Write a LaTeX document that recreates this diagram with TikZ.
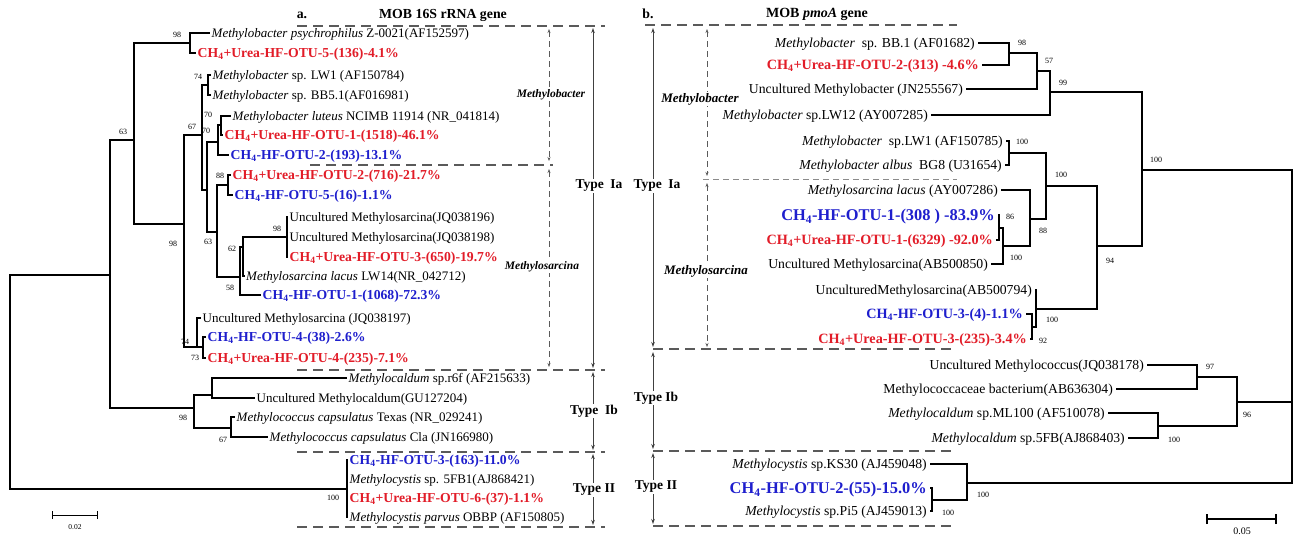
\documentclass[tikz,border=0pt]{standalone}
\usepackage{fontspec}
\setmainfont{Liberation Serif}
\usetikzlibrary{arrows.meta}
\definecolor{otured}{RGB}{226,28,40}
\definecolor{otublue}{RGB}{30,30,205}
\definecolor{dashgray}{RGB}{90,90,90}
\newcommand\fL{\fontsize{13}{15}\selectfont}
\newcommand\fLb{\fontsize{13.7}{15}\selectfont\bfseries}
\newcommand\fR{\fontsize{13.7}{16}\selectfont}
\newcommand\fRb{\fontsize{14.2}{16}\selectfont\bfseries}
\newcommand\fRB{\fontsize{16.4}{18}\selectfont\bfseries}
\newcommand\fBS{\fontsize{8}{9}\selectfont}
\newcommand\CHf{CH\textsubscript{4}}
\tikzset{
  br/.style={line width=1.3pt},
  lfL/.style={anchor=west, inner xsep=1.5pt, inner ysep=0pt, text height=10pt, text depth=1pt, font=\fL},
  lfLr/.style={lfL, font=\fLb, text=otured},
  lfLb/.style={lfL, font=\fLb, text=otublue},
  lfR/.style={anchor=east, inner xsep=3pt, inner ysep=0pt, text height=10pt, text depth=1pt, font=\fR},
  lfRr/.style={lfR, font=\fRb, text=otured},
  lfRb/.style={lfR, font=\fRb, text=otublue},
  lfRB/.style={lfR, font=\fRB, text=otublue, text height=12pt},
  bsv/.style={font=\fBS, inner sep=0pt},
  dline/.style={dashgray, line width=1.1pt, dash pattern=on 10pt off 6pt},
  dthin/.style={dashgray!70, line width=0.8pt, dash pattern=on 6pt off 4pt},
  darr/.style={dashgray, line width=0.8pt, dash pattern=on 6pt off 4pt, {Stealth[length=4pt,width=3pt]}-{Stealth[length=4pt,width=3pt]}},
  sarr/.style={black!75, line width=0.9pt, {Stealth[length=5pt,width=3.5pt]}-{Stealth[length=5pt,width=3.5pt]}},
  typelab/.style={font=\fontsize{13.5}{15}\selectfont\bfseries, fill=white, inner sep=1pt},
  cladeL/.style={font=\fontsize{11.5}{13}\selectfont\bfseries\itshape, fill=white, inner sep=1pt},
  cladeR/.style={font=\fontsize{13}{15}\selectfont\bfseries\itshape, fill=white, inner sep=1pt},
  ttl/.style={font=\fontsize{13.8}{15}\selectfont\bfseries, inner sep=1pt}
}
\begin{document}
\begin{tikzpicture}[x=1pt,y=-1pt]
\fill[white] (0,0) rectangle (1295,536);
\useasboundingbox (0,0) rectangle (1295,536);

% ================= LEFT TREE (a) =================
\node[ttl] (ta) at (302,15) {a.};
\node[ttl] (tma) at (443,15) {MOB 16S rRNA gene};

% leaves
\node[lfL]  (L1)  at (210,33)  {\textit{Methylobacter psychrophilus} Z-0021(AF152597)};
\node[lfLr] (L2)  at (196,53)  {\CHf+Urea-HF-OTU-5-(136)-4.1\%};
\node[lfL]  (L3)  at (211,75)  {\textit{Methylobacter} sp. LW1 (AF150784)};
\node[lfL]  (L4)  at (211,95)  {\textit{Methylobacter} sp. BB5.1(AF016981)};
\node[lfL]  (L5)  at (231,116) {\textit{Methylobacter luteus} NCIMB 11914 (NR\_041814)};
\node[lfLr] (L6)  at (223,135) {\CHf+Urea-HF-OTU-1-(1518)-46.1\%};
\node[lfLb] (L7)  at (229,155) {\CHf-HF-OTU-2-(193)-13.1\%};
\node[lfLr] (L8)  at (231,175) {\CHf+Urea-HF-OTU-2-(716)-21.7\%};
\node[lfLb] (L9)  at (233,195) {\CHf-HF-OTU-5-(16)-1.1\%};
\node[lfL]  (L10) at (288,217) {Uncultured Methylosarcina(JQ038196)};
\node[lfL]  (L11) at (288,237) {Uncultured Methylosarcina(JQ038198)};
\node[lfLr] (L12) at (288,257) {\CHf+Urea-HF-OTU-3-(650)-19.7\%};
\node[lfL]  (L13) at (244.5,276) {\textit{Methylosarcina lacus} LW14(NR\_042712)};
\node[lfLb] (L14) at (261,295) {\CHf-HF-OTU-1-(1068)-72.3\%};
\node[lfL]  (L15) at (201,318) {Uncultured Methylosarcina (JQ038197)};
\node[lfLb] (L16) at (206,337) {\CHf-HF-OTU-4-(38)-2.6\%};
\node[lfLr] (L17) at (206,358) {\CHf+Urea-HF-OTU-4-(235)-7.1\%};
\node[lfL]  (L18) at (347,378) {\textit{Methylocaldum} sp.r6f (AF215633)};
\node[lfL]  (L19) at (255,398) {Uncultured Methylocaldum(GU127204)};
\node[lfL]  (L20) at (235,417) {\textit{Methylococcus capsulatus} Texas (NR\_029241)};
\node[lfL]  (L21) at (268,437) {\textit{Methylococcus capsulatus} Cla (JN166980)};
\node[lfLb] (L22) at (348,460) {\CHf-HF-OTU-3-(163)-11.0\%};
\node[lfL]  (L23) at (348,479) {\textit{Methylocystis} sp. 5FB1(AJ868421)};
\node[lfLr] (L24) at (348,498) {\CHf+Urea-HF-OTU-6-(37)-1.1\%};
\node[lfL]  (L25) at (348,517) {\textit{Methylocystis parvus} OBBP (AF150805)};

% internal nodes
\coordinate (R0) at (10,382);
\coordinate (A) at (110,275);
\coordinate (M) at (347,489);
\coordinate (B) at (134,140);
\coordinate (Ib) at (194,408);
\coordinate (C) at (190,43);
\coordinate (D) at (184,224);
\coordinate (E) at (202,135);
\coordinate (F) at (197,347);
\coordinate (N34) at (208,85);
\coordinate (G) at (207,190);
\coordinate (R567) at (218,142);
\coordinate (R56) at (221,125);
\coordinate (H) at (217,232);
\coordinate (R89) at (228,185);
\coordinate (I) at (240,277);
\coordinate (J) at (243,247);
\coordinate (R1012) at (287,237);
\coordinate (K) at (203,347);
\coordinate (Ib1) at (212,395);
\coordinate (Ib2) at (231,428);

\draw[br] (R0) |- (A);  \draw[br] (R0) |- (M);
\draw[br] (A) |- (B);   \draw[br] (A) |- (Ib);
\draw[br] (B) |- (C);   \draw[br] (B) |- (D);
\draw[br] (C) |- (L1.west); \draw[br] (C) |- (L2.west);
\draw[br] (D) |- (E);   \draw[br] (D) |- (F);
\draw[br] (E) |- (N34); \draw[br] (E) |- (G);
\draw[br] (N34) |- (L3.west); \draw[br] (N34) |- (L4.west);
\draw[br] (G) |- (R567); \draw[br] (G) |- (H);
\draw[br] (R567) |- (R56); \draw[br] (R567) |- (L7.west);
\draw[br] (R56) |- (L5.west); \draw[br] (R56) |- (L6.west);
\draw[br] (H) |- (R89); \draw[br] (H) |- (I);
\draw[br] (R89) |- (L8.west); \draw[br] (R89) |- (L9.west);
\draw[br] (I) |- (J); \draw[br] (I) |- (L14.west);
\draw[br] (J) |- (R1012); \draw[br] (J) |- (L13.west);
\draw[br] (R1012) |- (L10.west); \draw[br] (R1012) |- (L11.west); \draw[br] (R1012) |- (L12.west);
\draw[br] (F) |- (L15.west); \draw[br] (F) |- (K);
\draw[br] (K) |- (L16.west); \draw[br] (K) |- (L17.west);
\draw[br] (Ib) |- (Ib1); \draw[br] (Ib) |- (Ib2);
\draw[br] (Ib1) |- (L18.west); \draw[br] (Ib1) |- (L19.west);
\draw[br] (Ib2) |- (L20.west); \draw[br] (Ib2) |- (L21.west);
\draw[br] (M) |- (L22.west); \draw[br] (M) |- (L23.west); \draw[br] (M) |- (L24.west); \draw[br] (M) |- (L25.west);

% bootstrap values (left)
\node[bsv] (bC) at (177,35) {98};
\node[bsv] (bB) at (123,132) {63};
\node[bsv] (bD) at (173,244) {98};
\node[bsv] (bE) at (192,127) {67};
\node[bsv] (bN34) at (198,77) {74};
\node[bsv] (bR56) at (208,115) {70};
\node[bsv] (bR567) at (206,131) {70};
\node[bsv] (bR89) at (220,176) {88};
\node[bsv] (bH) at (208,242) {63};
\node[bsv] (bR1012) at (277,229) {98};
\node[bsv] (bJ) at (232,249) {62};
\node[bsv] (bI) at (230,288) {58};
\node[bsv] (bF) at (185,342) {74};
\node[bsv] (bK) at (195,358) {73};
\node[bsv] (bIb) at (183,418) {98};
\node[bsv] (bIb2) at (223,440) {67};
\node[bsv] (bM) at (333,498) {100};

% scale bar left
\coordinate (sbl1) at (52,515); \coordinate (sbl2) at (97,515);
\draw[line width=1pt] (sbl1) -- (sbl2);
\draw[line width=1pt] ([yshift=-4pt]sbl1) -- ([yshift=4pt]sbl1);
\draw[line width=1pt] ([yshift=-4pt]sbl2) -- ([yshift=4pt]sbl2);
\node[font=\fontsize{7.5}{9}\selectfont, inner sep=0pt] (sbla) at (75,527) {0.02};

% group separators (left)
\draw[dline] (297,26) -- (605,26);
\draw[dline] (310,165) -- (553,165);
\draw[dline] (297,370) -- (605,370);
\draw[dline] (297,452) -- (605,452);
\draw[dline] (297,527) -- (605,527);

% arrows (left)
\draw[darr] (549,29) -- (549,161);
\draw[darr] (549,169) -- (549,367);
\node[cladeL] (cl1) at (551,95) {Methylobacter};
\node[cladeL] (cl2) at (542,267) {Methylosarcina};
\draw[sarr] (593,28) -- (593,368);
\draw[sarr] (593,372) -- (593,450);
\draw[sarr] (593,454) -- (593,525);
\node[typelab] (tIaL) at (599,186) {Type\ \ Ia};
\node[typelab] (tIbL) at (594,411) {Type\ \ Ib};
\node[typelab] (tIIL) at (594,490) {Type II};

% ================= RIGHT TREE (b) =================
\node[ttl] (tb) at (648,14) {b.};
\node[ttl, font=\fontsize{14}{15}\selectfont\bfseries] (tmb) at (817,14) {MOB \textit{pmoA} gene};

\node[lfR]  (r1)  at (978,43)   {\textit{Methylobacter}\ \ sp. BB.1 (AF01682)};
\node[lfRr] (r2)  at (982,65)   {\CHf+Urea-HF-OTU-2-(313) -4.6\%};
\node[lfR]  (r3)  at (966,89)   {Uncultured Methylobacter (JN255567)};
\node[lfR]  (r4)  at (931,115)  {\textit{Methylobacter} sp.LW12 (AY007285)};
\node[lfR]  (r5)  at (1006,141) {\textit{Methylobacter}\ \ sp.LW1 (AF150785)};
\node[lfR]  (r6)  at (1005,165) {\textit{Methylobacter albus}\ \ BG8 (U31654)};
\node[lfR]  (r7)  at (1001,190) {\textit{Methylosarcina lacus} (AY007286)};
\node[lfRB] (r8)  at (998,215)  {\CHf-HF-OTU-1-(308 ) -83.9\%};
\node[lfRr] (r9)  at (996,240)  {\CHf+Urea-HF-OTU-1-(6329) -92.0\%};
\node[lfR]  (r10) at (991,264)  {Uncultured Methylosarcina(AB500850)};
\node[lfR]  (r11) at (1035,290) {UnculturedMethylosarcina(AB500794)};
\node[lfRb] (r12) at (1026,314) {\CHf-HF-OTU-3-(4)-1.1\%};
\node[lfRr] (r13) at (1030,339) {\CHf+Urea-HF-OTU-3-(235)-3.4\%};
\node[lfR]  (r14) at (1147,365) {Uncultured Methylococcus(JQ038178)};
\node[lfR]  (r15) at (1116,389) {Methylococcaceae bacterium(AB636304)};
\node[lfR]  (r16) at (1108,413) {\textit{Methylocaldum} sp.ML100 (AF510078)};
\node[lfR]  (r17) at (1128,438) {\textit{Methylocaldum} sp.5FB(AJ868403)};
\node[lfR]  (r18) at (930,464)  {\textit{Methylocystis} sp.KS30 (AJ459048)};
\node[lfRB] (r19) at (930,488)  {\CHf-HF-OTU-2-(55)-15.0\%};
\node[lfR]  (r20) at (930,511)  {\textit{Methylocystis} sp.Pi5 (AJ459013)};

\coordinate (RR) at (1292,402);
\coordinate (IA) at (1142,170);
\coordinate (IB) at (1237,402);
\coordinate (II) at (967,483);
\coordinate (UB) at (1050,92);
\coordinate (U57) at (1037,71);
\coordinate (U98) at (1009,53);
\coordinate (LB) at (1097,246);
\coordinate (Na) at (1046,186);
\coordinate (N56) at (1009,153);
\coordinate (N88) at (1030,219);
\coordinate (N86) at (1003,246);
\coordinate (N89) at (999,228);
\coordinate (Nc) at (1036,309);
\coordinate (N92) at (1032,327);
\coordinate (N97) at (1197,377);
\coordinate (Nd) at (1158,426);
\coordinate (Ne) at (932,500);

\draw[br] (RR) |- (IA); \draw[br] (RR) |- (IB); \draw[br] (RR) |- (II);
\draw[br] (IA) |- (UB); \draw[br] (IA) |- (LB);
\draw[br] (UB) |- (U57); \draw[br] (UB) |- (r4.east);
\draw[br] (U57) |- (U98); \draw[br] (U57) |- (r3.east);
\draw[br] (U98) |- (r1.east); \draw[br] (U98) |- (r2.east);
\draw[br] (LB) |- (Na); \draw[br] (LB) |- (Nc);
\draw[br] (Na) |- (N56); \draw[br] (Na) |- (N88);
\draw[br] (N56) |- (r5.east); \draw[br] (N56) |- (r6.east);
\draw[br] (N88) |- (r7.east); \draw[br] (N88) |- (N86);
\draw[br] (N86) |- (N89); \draw[br] (N86) |- (r10.east);
\draw[br] (N89) |- (r8.east); \draw[br] (N89) |- (r9.east);
\draw[br] (Nc) |- (r11.east); \draw[br] (Nc) |- (N92);
\draw[br] (N92) |- (r12.east); \draw[br] (N92) |- (r13.east);
\draw[br] (IB) |- (N97); \draw[br] (IB) |- (Nd);
\draw[br] (N97) |- (r14.east); \draw[br] (N97) |- (r15.east);
\draw[br] (Nd) |- (r16.east); \draw[br] (Nd) |- (r17.east);
\draw[br] (II) |- (r18.east); \draw[br] (II) |- (Ne);
\draw[br] (Ne) |- (r19.east); \draw[br] (Ne) |- (r20.east);

% bootstrap values (right)
\node[bsv] (b1) at (1022,43) {98};
\node[bsv] (b2) at (1049,61) {57};
\node[bsv] (b3) at (1063,83) {99};
\node[bsv] (b4) at (1156,160) {100};
\node[bsv] (b5) at (1022,142) {100};
\node[bsv] (b6) at (1061,175) {100};
\node[bsv] (b7) at (1043,231) {88};
\node[bsv] (b8) at (1010,217) {86};
\node[bsv] (b9) at (1016,258) {100};
\node[bsv] (b10) at (1110,261) {94};
\node[bsv] (b11) at (1052,320) {100};
\node[bsv] (b12) at (1043,341) {92};
\node[bsv] (b13) at (1210,367) {97};
\node[bsv] (b14) at (1247,415) {96};
\node[bsv] (b15) at (1174,440) {100};
\node[bsv] (b16) at (983,495) {100};
\node[bsv] (b17) at (948,513) {100};

% scale bar right
\coordinate (sbr1) at (1207,519); \coordinate (sbr2) at (1276,519);
\draw[line width=1.2pt] (sbr1) -- (sbr2);
\draw[line width=1.2pt] ([yshift=-5pt]sbr1) -- ([yshift=5pt]sbr1);
\draw[line width=1.2pt] ([yshift=-5pt]sbr2) -- ([yshift=5pt]sbr2);
\node[font=\fontsize{10}{11}\selectfont, inner sep=0pt] (sbra) at (1242,531) {0.05};

% separators (right)
\draw[dline] (645,25) -- (957,25);
\draw[dthin] (703,179) -- (957,179);
\draw[dline] (653,349) -- (957,349);
\draw[dline] (653,451) -- (957,451);
\draw[dline] (653,526) -- (957,526);

% arrows (right)
\draw[darr] (707,29) -- (707,176);
\draw[darr] (707,183) -- (707,347);
\node[cladeR] (cr1) at (700,99) {Methylobacter};
\node[cladeR] (cr2) at (706,271) {Methylosarcina};
\draw[sarr] (653,28) -- (653,347);
\draw[sarr] (653,352) -- (653,449);
\draw[sarr] (653,453) -- (653,524);
\node[typelab] (tIaR) at (657,186) {Type\ \ Ia};
\node[typelab] (tIbR) at (656,398) {Type Ib};
\node[typelab] (tIIR) at (656,487) {Type II};
\end{tikzpicture}
\end{document}
